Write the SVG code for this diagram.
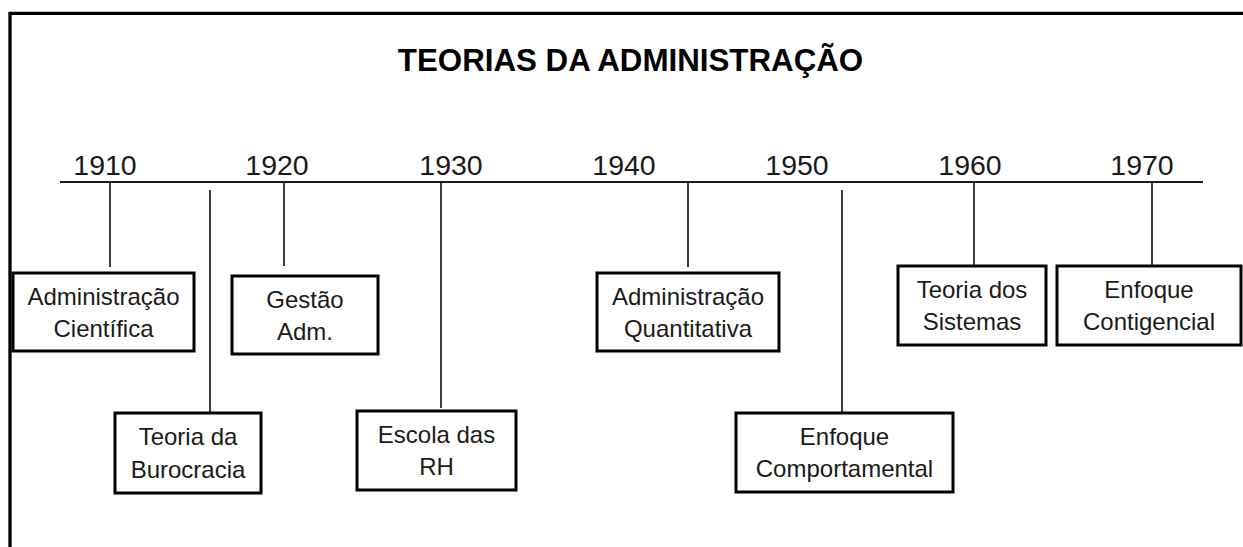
<svg xmlns="http://www.w3.org/2000/svg" width="1243" height="547" viewBox="0 0 1243 547">
<style>
.frame{fill:none;stroke:#000;stroke-width:3.3}
.axis{stroke:#1a1a1a;stroke-width:2.2}
.tick{stroke:#1a1a1a;stroke-width:1.7}
.box{fill:#fff;stroke:#000;stroke-width:3}
.lbl{font-family:"Liberation Sans",Arial,sans-serif;font-size:24px;fill:#1a1a1a;text-anchor:middle}
.year{font-family:"Liberation Sans",Arial,sans-serif;font-size:28.5px;fill:#1a1a1a;text-anchor:middle}
.title{font-family:"Liberation Sans",Arial,sans-serif;font-size:31.3px;font-weight:bold;fill:#000;text-anchor:middle}
</style>
<rect width="1243" height="547" fill="#fff"/>
<path class="frame" d="M10,547 V13.3 H1243"/>
<text class="title" x="630.5" y="71">TEORIAS DA ADMINISTRAÇÃO</text>
<g id="timeline">
<line class="axis" x1="60" y1="182" x2="1203" y2="182"/>
<text class="year" x="105" y="175">1910</text>
<text class="year" x="277" y="175">1920</text>
<text class="year" x="451" y="175">1930</text>
<text class="year" x="624" y="175">1940</text>
<text class="year" x="797" y="175">1950</text>
<text class="year" x="970" y="175">1960</text>
<text class="year" x="1142" y="175">1970</text>
</g>
<g id="connectors">
<line class="tick" x1="110" y1="183" x2="110" y2="267"/>
<line class="tick" x1="210" y1="190" x2="210" y2="413"/>
<line class="tick" x1="284" y1="183" x2="284" y2="266"/>
<line class="tick" x1="441" y1="183" x2="441" y2="408"/>
<line class="tick" x1="688" y1="183" x2="688" y2="267"/>
<line class="tick" x1="842" y1="190" x2="842" y2="412"/>
<line class="tick" x1="974" y1="183" x2="974" y2="265"/>
<line class="tick" x1="1152" y1="183" x2="1152" y2="265"/>
</g>
<g id="n-adm-cientifica">
<rect class="box" x="13" y="273" width="181" height="78"/>
<text class="lbl" x="103.5" y="305">Administração</text>
<text class="lbl" x="103.5" y="337">Científica</text>
</g>
<g id="n-burocracia">
<rect class="box" x="115" y="413" width="146" height="80"/>
<text class="lbl" x="188" y="445">Teoria da</text>
<text class="lbl" x="188" y="478">Burocracia</text>
</g>
<g id="n-gestao">
<rect class="box" x="232" y="276" width="146" height="78"/>
<text class="lbl" x="305" y="308">Gestão</text>
<text class="lbl" x="305" y="340">Adm.</text>
</g>
<g id="n-escola">
<rect class="box" x="357" y="411" width="159" height="79"/>
<text class="lbl" x="436.5" y="443">Escola das</text>
<text class="lbl" x="436.5" y="475">RH</text>
</g>
<g id="n-quantitativa">
<rect class="box" x="597" y="273" width="182" height="78"/>
<text class="lbl" x="688" y="305">Administração</text>
<text class="lbl" x="688" y="337">Quantitativa</text>
</g>
<g id="n-comportamental">
<rect class="box" x="736" y="413" width="217" height="79"/>
<text class="lbl" x="844.5" y="445">Enfoque</text>
<text class="lbl" x="844.5" y="477">Comportamental</text>
</g>
<g id="n-sistemas">
<rect class="box" x="898" y="266" width="148" height="79"/>
<text class="lbl" x="972" y="298">Teoria dos</text>
<text class="lbl" x="972" y="330">Sistemas</text>
</g>
<g id="n-contigencial">
<rect class="box" x="1057" y="266" width="184" height="79"/>
<text class="lbl" x="1149" y="298">Enfoque</text>
<text class="lbl" x="1149" y="330">Contigencial</text>
</g>
</svg>
